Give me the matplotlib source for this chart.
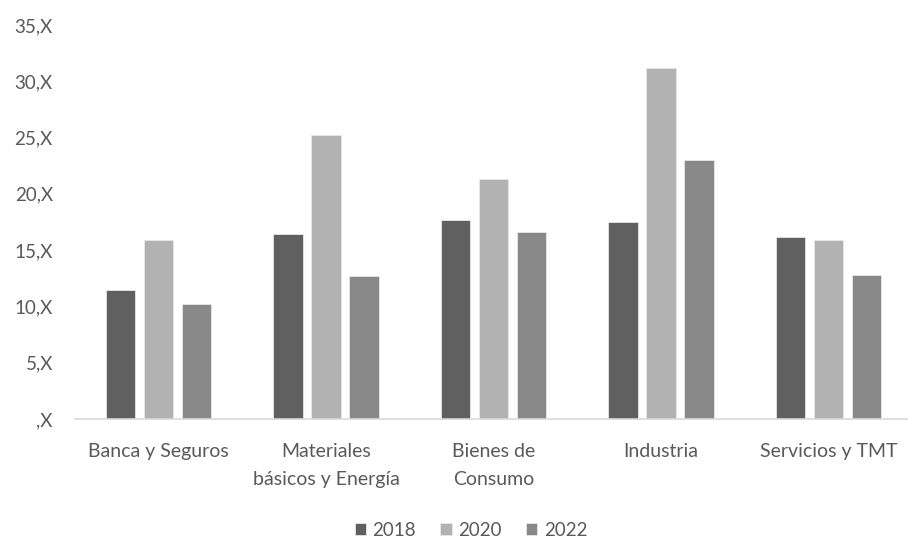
import numpy as np
import matplotlib
matplotlib.use('Agg')
import matplotlib.pyplot as plt

# ==== data ====
categories = ["Banca y Seguros", "Materiales\nbásicos y Energía", "Bienes de\nConsumo",
              "Industria", "Servicios y TMT"]
years = ["2018", "2020", "2022"]
v2018 = [11.5, 16.4, 17.7, 17.5, 16.2]
v2020 = [15.9, 25.2, 21.3, 31.2, 15.9]
v2022 = [10.2, 12.7, 16.6, 23.0, 12.8]
y_ticks = [0, 5, 10, 15, 20, 25, 30, 35]
y_labels = [",X", "5,X", "10,X", "15,X", "20,X", "25,X", "30,X", "35,X"]

colors = ["#606060", "#b2b2b2", "#898989"]
text_color = "#595959"

plt.rcParams['font.family'] = ['Lato', 'DejaVu Sans']

fig = plt.figure(figsize=(9.08, 5.43), dpi=100)
ax = fig.add_axes([75 / 908, 124 / 543, 833 / 908, 394 / 543])

x = np.arange(len(categories))
w = 0.175
step = 0.227
for i, (vals, lab) in enumerate(zip([v2018, v2020, v2022], years)):
    ax.bar(x + (i - 1) * step, vals, width=w, color=colors[i],
           edgecolor="#e8e8e8", linewidth=0.6, label=lab, zorder=2)

ax.set_xlim(-0.5, -0.5 + 833 / 167.4)
ax.set_ylim(0, 35)
ax.set_yticks(y_ticks)
ax.set_yticklabels(y_labels)
ax.set_xticks(x)
ax.set_xticklabels(categories, linespacing=1.8)

for s in ["top", "right", "left"]:
    ax.spines[s].set_visible(False)
ax.spines["bottom"].set_color("#d9d9d9")
ax.spines["bottom"].set_linewidth(1.2)
ax.tick_params(axis="both", length=0, colors=text_color, labelsize=13.5)
ax.tick_params(axis="x", pad=17, labelsize=14)
ax.tick_params(axis="y", pad=16)

ax.legend(loc="center", bbox_to_anchor=(471 / 908, 1 - 530 / 543),
          bbox_transform=fig.transFigure, ncol=3, frameon=False,
          fontsize=13.5, labelcolor=text_color, handlelength=0.6,
          handleheight=0.6, handletextpad=0.35, columnspacing=1.3)

plt.savefig("out.png", dpi=100)
plt.close()
